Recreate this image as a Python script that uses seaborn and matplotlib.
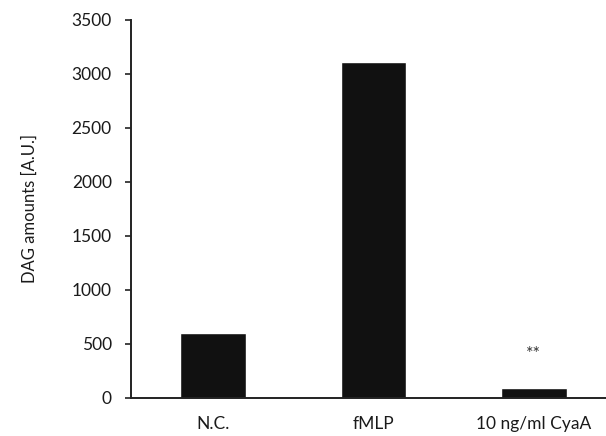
import matplotlib
matplotlib.use("Agg")
import matplotlib.pyplot as plt
import seaborn as sns
import pandas as pd

# values
groups = ["N.C.", "fMLP", "10 ng/ml CyaA"]
dag_amounts = [600, 3115, 95]
marks = ["", "", "**"]
mark_y = [None, None, 330]

sns.set_theme(style="white")
plt.rcParams["font.family"] = ["Lato", "DejaVu Sans"]

df = pd.DataFrame({"group": groups, "dag": dag_amounts})

fig = plt.figure(figsize=(6.06, 4.36), dpi=100)
ax = fig.add_axes([0.2165, 0.0872, 0.7835, 0.867])

sns.barplot(data=df, x="group", y="dag", color="#111111", width=0.41,
            saturation=1, ax=ax)

for i, (m, y) in enumerate(zip(marks, mark_y)):
    if m:
        ax.text(i, y, m, ha="center", va="bottom", fontsize=13, color="#333333")

ax.set_ylim(0, 3500)
ax.set_xlim(-0.51, 2.45)
ax.set_yticks(range(0, 3501, 500))
ax.set_xlabel("")
ax.set_ylabel("DAG amounts [A.U.]", fontsize=12, color="#1a1a1a", labelpad=24)

ax.tick_params(axis="y", which="both", left=True, length=4, width=1.2,
               color="#222222", labelsize=12.5, labelcolor="#1a1a1a", pad=10)
ax.tick_params(axis="x", bottom=False, length=0, labelsize=12.5,
               labelcolor="#1a1a1a", pad=13)

for side in ["top", "right"]:
    ax.spines[side].set_visible(False)
for side in ["left", "bottom"]:
    ax.spines[side].set_color("#222222")
    ax.spines[side].set_linewidth(1.4)

fig.savefig("out.png", dpi=100)
